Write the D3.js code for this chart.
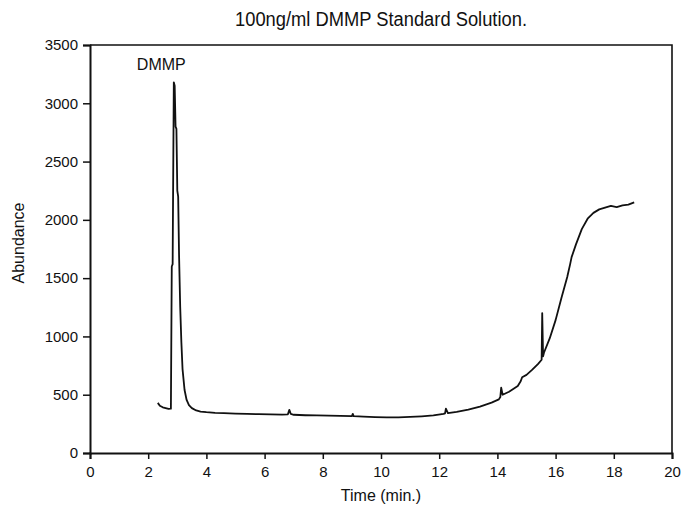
<!DOCTYPE html>
<html>
<head>
<meta charset="utf-8">
<script src="https://cdn.jsdelivr.net/npm/d3@7"></script>
<style>
    body { margin: 0; background: #fff; }
    text { font-family: "Liberation Sans", Arial, sans-serif; fill: #111; }
</style>
</head>
<body>
<svg id="chart" width="681" height="506"></svg>
<script>
// chromatogram trace
var times = [
    2.33, 2.40, 2.50, 2.60, 2.70, 2.78, 2.81, 2.84, 2.88, 2.91, 2.94, 2.97, 3.00,
    3.03, 3.06, 3.10, 3.14, 3.18, 3.25, 3.32, 3.40, 3.50, 3.65, 3.80, 4.00, 4.30,
    4.60, 5.00, 5.40, 5.80, 6.20, 6.60, 6.80, 6.85, 6.90, 7.00, 7.40, 7.80, 8.20,
    8.60, 9.00, 9.03, 9.06, 9.40, 9.80, 10.20, 10.60, 11.00, 11.40, 11.80, 12.15,
    12.20, 12.23, 12.30, 12.60, 13.00, 13.40, 13.80, 14.05, 14.10, 14.13, 14.18,
    14.40, 14.70, 14.80, 14.85, 15.00, 15.20, 15.40, 15.52, 15.54, 15.57, 15.60,
    15.80, 16.00, 16.20, 16.40, 16.50, 16.55, 16.70, 16.90, 17.10, 17.30, 17.50,
    17.70, 17.90, 18.10, 18.30, 18.50, 18.70
];
var abundance = [
    430, 405, 392, 385, 378, 380, 1600, 1620, 3180, 3150, 2800, 2780, 2250,
    2200, 1700, 1250, 950, 720, 540, 455, 410, 385, 365, 355, 350, 345,
    342, 338, 336, 333, 332, 330, 332, 370, 335, 328, 324, 322, 320,
    318, 316, 335, 316, 312, 308, 305, 306, 310, 315, 322, 335,
    340, 380, 342, 352, 372, 398, 432, 460, 480, 560, 500,
    525, 575, 615, 650, 670, 715, 765, 800, 1200, 830, 860,
    985, 1140, 1330, 1510, 1620, 1680, 1790, 1920, 2010, 2060, 2090,
    2105, 2120, 2110, 2125, 2130, 2150
];

var xTicks = [0, 2, 4, 6, 8, 10, 12, 14, 16, 18, 20];
var yTicks = [0, 500, 1000, 1500, 2000, 2500, 3000, 3500];

var title = '100ng/ml DMMP Standard Solution.';
var peakLabel = 'DMMP';
var xTitle = 'Time (min.)';
var yTitle = 'Abundance';

var margin = { left: 90, right: 9, top: 45, bottom: 53 },
    width = 681,
    height = 506;

var svg = d3.select('#chart');

var x = d3.scaleLinear()
    .domain([0, 20])
    .range([margin.left, width - margin.right]);

var y = d3.scaleLinear()
    .domain([0, 3500])
    .range([height - margin.bottom, margin.top]);

// frame (top + right)
svg.append('path')
    .attr('d', `M${x(0)},${y(3500)}H${x(20)}V${y(0)}`)
    .attr('fill', 'none')
    .attr('stroke', '#111')
    .attr('stroke-width', 1.6);

var xAxis = svg.append('g')
    .attr('transform', `translate(0,${y(0)})`)
    .call(d3.axisBottom(x).tickValues(xTicks).tickSize(6).tickPadding(7).tickFormat(d3.format('d')));

var yAxis = svg.append('g')
    .attr('transform', `translate(${x(0)},0)`)
    .call(d3.axisLeft(y).tickValues(yTicks).tickSize(7).tickPadding(5).tickFormat(d3.format('d')));

[xAxis, yAxis].forEach(g => {
    g.select('.domain').attr('stroke', '#111').attr('stroke-width', 2);
    g.selectAll('.tick line').attr('stroke', '#111').attr('stroke-width', 1.5);
    g.selectAll('.tick text')
        .attr('fill', '#111')
        .style('font-size', '15px');
});

var points = times.map((t, i) => [t, abundance[i]]);

svg.append('path')
    .datum(points)
    .attr('fill', 'none')
    .attr('stroke', '#111')
    .attr('stroke-width', 1.8)
    .attr('stroke-linejoin', 'round')
    .attr('d', d3.line().x(d => x(d[0])).y(d => y(d[1])));

svg.append('text')
    .attr('x', (x(0) + x(20)) / 2)
    .attr('y', 26)
    .attr('text-anchor', 'middle')
    .attr('textLength', 292)
    .attr('lengthAdjust', 'spacingAndGlyphs')
    .style('font-size', '20px')
    .text(title);

svg.append('text')
    .attr('x', x(2.45))
    .attr('y', 70)
    .attr('text-anchor', 'middle')
    .style('font-size', '16px')
    .text(peakLabel);

svg.append('text')
    .attr('x', (x(0) + x(20)) / 2)
    .attr('y', 501)
    .attr('text-anchor', 'middle')
    .style('font-size', '16px')
    .text(xTitle);

svg.append('text')
    .attr('transform', `translate(24,${(y(0) + y(3500)) / 2 - 6}) rotate(-90)`)
    .attr('text-anchor', 'middle')
    .style('font-size', '16px')
    .text(yTitle);
</script>
</body>
</html>
